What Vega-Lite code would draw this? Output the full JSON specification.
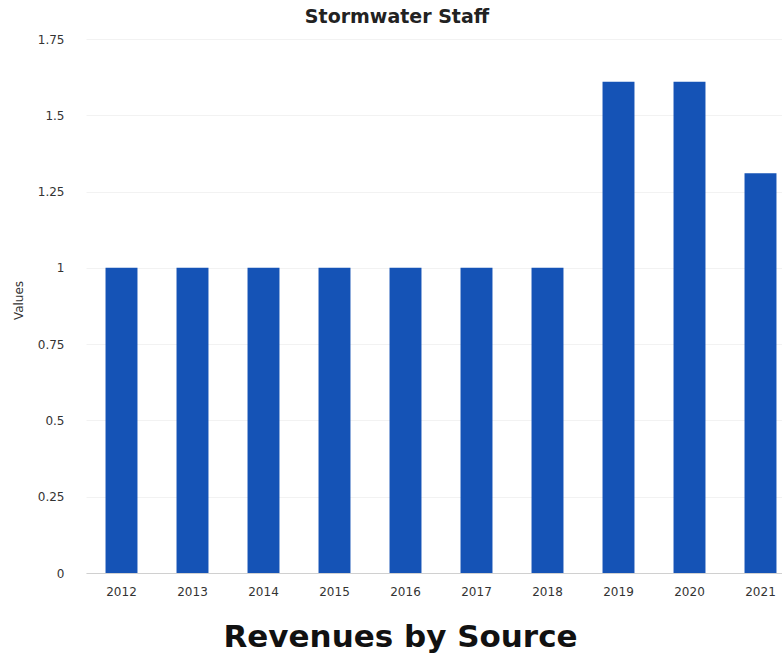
{
  "$schema": "https://vega.github.io/schema/vega-lite/v6.json",
  "autosize": {"type": "none"},
  "padding": {"left": 86, "top": 39, "right": 0, "bottom": 87},
  "width": 710,
  "height": 534,
  "background": "white",
  "view": {"stroke": null},
  "title": {"text": "Stormwater Staff", "font": "DejaVu Sans", "fontSize": 19, "fontWeight": "bold", "color": "#222", "anchor": "middle", "dx": -44, "offset": 6},
  "data": {"values": [
    {"year": "2012", "value": 1.0},
    {"year": "2013", "value": 1.0},
    {"year": "2014", "value": 1.0},
    {"year": "2015", "value": 1.0},
    {"year": "2016", "value": 1.0},
    {"year": "2017", "value": 1.0},
    {"year": "2018", "value": 1.0},
    {"year": "2019", "value": 1.61},
    {"year": "2020", "value": 1.61},
    {"year": "2021", "value": 1.31}
  ]},
  "mark": {"type": "bar", "color": "#1553b6"},
  "encoding": {
    "x": {"field": "year", "type": "ordinal", "sort": null,
      "scale": {"paddingInner": 0.55, "paddingOuter": 0.275},
      "axis": {"title": "Revenues by Source", "titleFont": "DejaVu Sans", "titleFontSize": 31, "titleFontWeight": "bold", "titleColor": "#111", "titleX": 314, "titleY": 64, "titleBaseline": "middle", "titleAnchor": "middle", "labelAngle": 0, "labelFont": "DejaVu Sans", "labelFontSize": 12, "labelColor": "#333", "labelPadding": 13, "ticks": false, "domainColor": "#d0d0d0"}},
    "y": {"field": "value", "type": "quantitative",
      "scale": {"domain": [0, 1.75]},
      "axis": {"title": "Values", "titleFont": "DejaVu Sans", "titleFontSize": 12, "titleFontWeight": "normal", "titleColor": "#333", "titleX": -68, "titleY": 261, "titleBaseline": "middle", "values": [0, 0.25, 0.5, 0.75, 1, 1.25, 1.5, 1.75], "labelExpr": "'' + datum.value", "labelFont": "DejaVu Sans", "labelFontSize": 12, "labelColor": "#333", "labelPadding": 22, "ticks": false, "domain": false, "gridColor": "#f2f2f2"}}
  }
}
